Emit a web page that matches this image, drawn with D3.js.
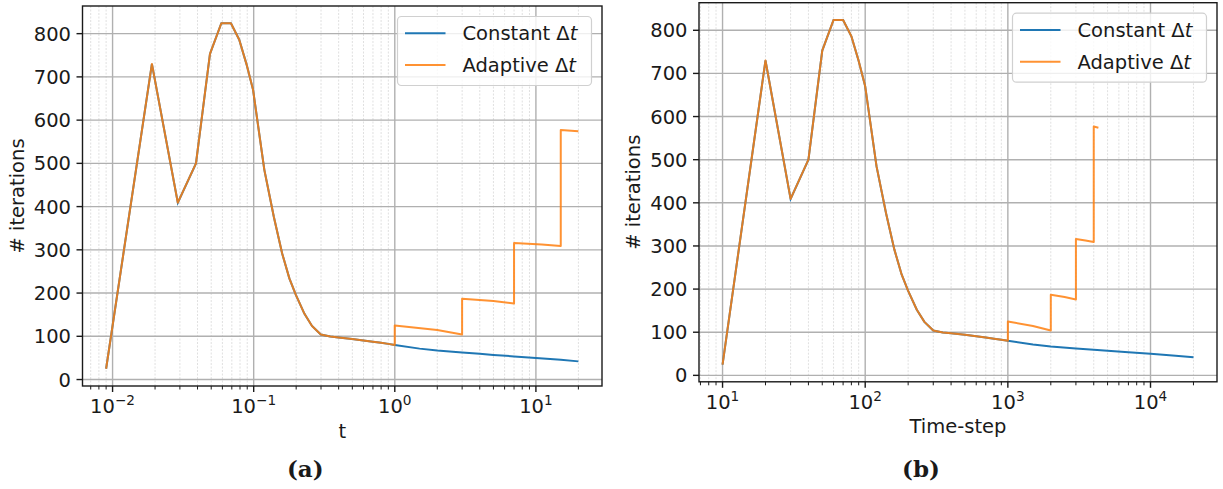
<!DOCTYPE html>
<html>
<head>
<meta charset="utf-8">
<script src="https://cdn.jsdelivr.net/npm/d3@7"></script>
<style>
  html, body { margin: 0; padding: 0; background: #fff; }
  svg { display: block; }
  text { font-family: "DejaVu Sans", sans-serif; fill: #1a1a1a; }
</style>
</head>
<body>
<svg id="chart" width="1223" height="489"></svg>
<script>
// ---------------- data ----------------
const stepsConstant = [10,20,30,40,50,60,70,80,90,100,120,140,160,180,200,230,260,300,350,400,500,600,700,800,900,1000,1500,2000,3000,4000,5000,7000,10000,15000,20000];
const timeConstant  = [0.009,0.019,0.029,0.039,0.049,0.059,0.069,0.079,0.089,0.099,0.119,0.139,0.159,0.179,0.199,0.229,0.259,0.299,0.349,0.399,0.499,0.599,0.699,0.799,0.899,0.999,1.499,1.999,2.999,3.999,4.999,6.999,9.999,14.999,19.999];
const itersConstant = [25,730,409,500,753,824,824,786,729,670,485,376,292,234,196,152,124,104,99.5,97.5,94,90.5,87.5,85,82.5,80,71.5,67,62.5,59.5,57,53.5,50,45.5,42];

const stepsAdaptive = [10,20,30,40,50,60,70,80,90,100,120,140,160,180,200,230,260,300,350,400,500,600,700,800,900,1000,1000,1500,2000,2000,2500,3000,3000,3500,4000,4000,4312];
const timeAdaptive  = [0.009,0.019,0.029,0.039,0.049,0.059,0.069,0.079,0.089,0.099,0.119,0.139,0.159,0.179,0.199,0.229,0.259,0.299,0.349,0.399,0.499,0.599,0.699,0.799,0.899,0.999,0.999,1.999,2.999,2.999,4.999,6.999,6.999,10.999,14.999,14.999,19.999];
const itersAdaptive = [25,730,409,500,753,824,824,786,729,670,485,376,292,234,196,152,124,104,99.5,97.5,94,90.5,87.5,85,82.5,80,125,114.5,104,187,181.5,176,316,312.5,309,577,574];

const yTicks = [0,100,200,300,400,500,600,700,800];
const seriesNames = ["Constant Δ", "Adaptive Δ"];
const panelXLabels = ["t", "Time-step"];
const panelCaptions = ["(a)", "(b)"];

// ---------------- styles ----------------
const C_BLUE = "#1f77b4", C_ORANGE = "#ff7f0e";
const ORANGE_OPACITY = 0.85;
const FS = 19.5;

const svg = d3.select("#chart");

function padLogDomain(vals) {
  const [lo, hi] = d3.extent(vals).map(Math.log10);
  const p = (hi - lo) * 0.05;
  return [Math.pow(10, lo - p), Math.pow(10, hi + p)];
}
function padLinDomain(vals) {
  const [lo, hi] = d3.extent(vals);
  const p = (hi - lo) * 0.05;
  return [lo - p, hi + p];
}

function drawPanel(cfg) {
  const { x0, x1, y0, y1, xConst, xAdapt, xLabel, caption } = cfg;
  const g = svg.append("g");
  const x = d3.scaleLog().domain(padLogDomain(xConst.concat(xAdapt))).range([x0, x1]);
  const y = d3.scaleLinear().domain(padLinDomain(itersConstant.concat(itersAdaptive))).range([y1, y0]);

  const [dlo, dhi] = x.domain();
  const majors = [], minors = [];
  for (let e = Math.floor(Math.log10(dlo)); e <= Math.ceil(Math.log10(dhi)); e++) {
    for (let k = 1; k <= 9; k++) {
      const v = k * Math.pow(10, e);
      if (v < dlo || v > dhi) continue;
      (k === 1 ? majors : minors).push({ v, e });
    }
  }

  // minor vertical grid
  g.selectAll(".mgrid").data(minors).join("line")
    .attr("x1", d => x(d.v)).attr("x2", d => x(d.v))
    .attr("y1", y0).attr("y2", y1)
    .attr("stroke", "#e0e0e0").attr("stroke-width", 1).attr("stroke-dasharray", "2,1.5");
  // major grids
  g.selectAll(".xgrid").data(majors).join("line")
    .attr("x1", d => x(d.v)).attr("x2", d => x(d.v))
    .attr("y1", y0).attr("y2", y1)
    .attr("stroke", "#b0b0b0").attr("stroke-width", 1.4);
  g.selectAll(".ygrid").data(yTicks).join("line")
    .attr("x1", x0).attr("x2", x1)
    .attr("y1", d => y(d)).attr("y2", d => y(d))
    .attr("stroke", "#b0b0b0").attr("stroke-width", 1.4);

  // lines
  const lineC = d3.line().x(d => x(d[0])).y(d => y(d[1]));
  g.append("path").datum(xConst.map((v, i) => [v, itersConstant[i]]))
    .attr("d", lineC).attr("fill", "none").attr("stroke", C_BLUE).attr("stroke-width", 2);
  g.append("path").datum(xAdapt.map((v, i) => [v, itersAdaptive[i]]))
    .attr("d", lineC).attr("fill", "none").attr("stroke", C_ORANGE).attr("stroke-width", 2)
    .attr("stroke-opacity", ORANGE_OPACITY).attr("stroke-linejoin", "round");

  // frame
  g.append("rect").attr("x", x0).attr("y", y0).attr("width", x1 - x0).attr("height", y1 - y0)
    .attr("fill", "none").attr("stroke", "#1a1a1a").attr("stroke-width", 1.4);

  // y ticks
  g.selectAll(".yt").data(yTicks).join("line")
    .attr("x1", x0 - 6).attr("x2", x0).attr("y1", d => y(d)).attr("y2", d => y(d))
    .attr("stroke", "#1a1a1a").attr("stroke-width", 1.4);
  g.selectAll(".ytl").data(yTicks).join("text")
    .attr("x", x0 - 11.5).attr("y", d => y(d) + 7)
    .attr("text-anchor", "end").attr("font-size", FS).text(d => d);

  // x ticks
  g.selectAll(".xt").data(majors).join("line")
    .attr("x1", d => x(d.v)).attr("x2", d => x(d.v)).attr("y1", y1).attr("y2", y1 + 6)
    .attr("stroke", "#1a1a1a").attr("stroke-width", 1.4);
  g.selectAll(".xmt").data(minors).join("line")
    .attr("x1", d => x(d.v)).attr("x2", d => x(d.v)).attr("y1", y1).attr("y2", y1 + 3.5)
    .attr("stroke", "#1a1a1a").attr("stroke-width", 1);
  const xtl = g.selectAll(".xtl").data(majors).join("text")
    .attr("x", d => x(d.v)).attr("y", y1 + 27)
    .attr("text-anchor", "middle").attr("font-size", FS);
  xtl.append("tspan").text("10");
  xtl.append("tspan").attr("font-size", FS * 0.7).attr("dy", -8)
    .text(d => (d.e < 0 ? "\u2212" + (-d.e) : "" + d.e));

  // axis labels
  g.append("text").attr("x", (x0 + x1) / 2).attr("y", y1 + 51.5)
    .attr("text-anchor", "middle").attr("font-size", FS).text(xLabel);
  g.append("text").attr("transform", `translate(${x0 - 59},${(y0 + y1) / 2}) rotate(-90)`)
    .attr("text-anchor", "middle").attr("font-size", FS).text("# iterations");

  // legend
  const lw = 194, lh = 69;
  const lx = x1 - 10.5 - lw, ly = y0 + 10.5;
  const lg = g.append("g");
  lg.append("rect").attr("x", lx).attr("y", ly).attr("width", lw).attr("height", lh)
    .attr("rx", 4).attr("fill", "#fff").attr("fill-opacity", 0.8)
    .attr("stroke", "#d0d0d0").attr("stroke-width", 1.2);
  const items = [{ name: seriesNames[0], c: C_BLUE, o: 1 }, { name: seriesNames[1], c: C_ORANGE, o: ORANGE_OPACITY }];
  items.forEach((it, i) => {
    const cy = ly + 16.8 + i * 31.7;
    lg.append("line").attr("x1", lx + 7.5).attr("x2", lx + 48).attr("y1", cy).attr("y2", cy)
      .attr("stroke", it.c).attr("stroke-width", 2).attr("stroke-opacity", it.o);
    const t = lg.append("text").attr("x", lx + 65).attr("y", cy + 7).attr("font-size", FS);
    t.append("tspan").text(it.name);
    t.append("tspan").attr("font-style", "italic").text("t");
  });

  // caption
  svg.append("text").attr("x", (x0 + x1) / 2 - 37).attr("y", 477)
    .attr("text-anchor", "middle").attr("font-size", 23)
    .attr("font-weight", "bold").style("font-family", "'DejaVu Serif', serif")
    .text(caption);
}

drawPanel({ x0: 82.5, x1: 602, y0: 6, y1: 386, xConst: timeConstant, xAdapt: timeAdaptive, xLabel: panelXLabels[0], caption: panelCaptions[0] });
drawPanel({ x0: 699, x1: 1217, y0: 2.7, y1: 381.8, xConst: stepsConstant, xAdapt: stepsAdaptive, xLabel: panelXLabels[1], caption: panelCaptions[1] });
</script>
</body>
</html>
